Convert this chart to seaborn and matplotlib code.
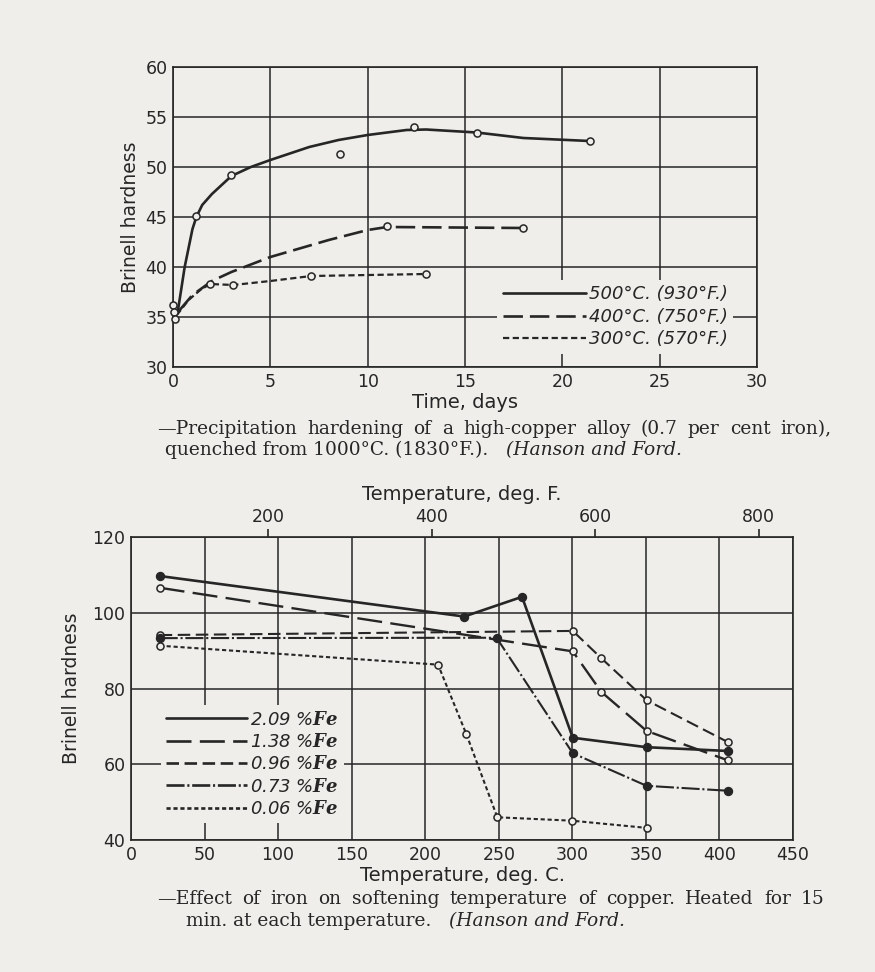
import matplotlib
matplotlib.use('Agg')
import matplotlib.pyplot as plt
from matplotlib.lines import Line2D
import seaborn as sns

# ---- top chart: precipitation hardening (Time, days vs Brinell hardness) ----
t500_curve_x = [0.25, 0.6, 1.0, 1.2, 1.5, 2.0, 3.0, 4.0, 5.0, 7.0, 8.5, 10.0, 12.0, 13.0, 15.6, 18.0, 21.4]
t500_curve_y = [35.6, 40.0, 43.8, 45.0, 46.2, 47.3, 49.1, 50.0, 50.7, 52.0, 52.7, 53.2, 53.7, 53.75, 53.45, 52.9, 52.6]
t500_pts_x = [1.2, 3.0, 8.6, 12.4, 15.6, 21.4]
t500_pts_y = [45.1, 49.2, 51.3, 54.0, 53.4, 52.55]

t400_curve_x = [0.3, 1.0, 2.0, 3.0, 5.0, 8.0, 10.0, 11.0, 18.0]
t400_curve_y = [35.6, 37.2, 38.6, 39.5, 41.0, 42.7, 43.7, 44.0, 43.9]
t400_pts_x = [11.0, 18.0]
t400_pts_y = [44.05, 43.9]

t300_curve_x = [0.2, 0.8, 1.4, 1.9, 3.1, 5.0, 7.1, 13.0]
t300_curve_y = [35.2, 36.7, 37.7, 38.3, 38.2, 38.6, 39.1, 39.3]
t300_pts_x = [1.9, 3.1, 7.1, 13.0]
t300_pts_y = [38.3, 38.15, 39.05, 39.3]

start_pts_x = [0.0, 0.05, 0.1]
start_pts_y = [36.2, 35.5, 34.8]

top_labels = ['500°C. (930°F.)', '400°C. (750°F.)', '300°C. (570°F.)']

# ---- bottom chart: softening temperature (deg C vs Brinell hardness) ----
fe209_x = [19.5, 226.5, 265.8, 300.3, 350.5, 406]
fe209_y = [109.7, 99.0, 104.2, 67.0, 64.5, 63.5]
fe138_x = [19.5, 300.3, 319.7, 350.5, 406]
fe138_y = [106.6, 89.8, 79.1, 68.8, 61.0]
fe096_x = [19.5, 300.3, 319.7, 350.5, 406]
fe096_y = [94.1, 95.2, 88.0, 76.9, 65.8]
fe073_x = [19.5, 248.5, 300.3, 350.5, 406]
fe073_y = [93.3, 93.4, 62.9, 54.3, 53.0]
fe006_x = [19.5, 208.7, 228.0, 249.0, 299.7, 350.5]
fe006_y = [91.3, 86.3, 67.9, 46.0, 45.1, 43.2]

bottom_labels = ['2.09', '1.38', '0.96', '0.73', '0.06']

BG = '#efeeeb'
INK = '#262626'

sns.set_style('white')
plt.rcParams['font.family'] = ['DejaVu Sans']
plt.rcParams['mathtext.fontset'] = 'dejavuserif'
plt.rcParams['lines.scale_dashes'] = False

fig = plt.figure(figsize=(8.75, 9.72), dpi=100, facecolor=BG)

# ================= top chart =================
ax1 = fig.add_axes([173 / 875, 1 - 367 / 972, 584 / 875, 300 / 972], facecolor=BG)

dash400 = (0, (14, 5))
dash300 = (0, (4.5, 2.5))

sns.lineplot(x=t500_curve_x, y=t500_curve_y, ax=ax1, color=INK, lw=1.9,
             sort=False, estimator=None, zorder=3)
sns.lineplot(x=t400_curve_x, y=t400_curve_y, ax=ax1, color=INK, lw=1.9,
             linestyle=dash400, sort=False, estimator=None, zorder=3)
sns.lineplot(x=t300_curve_x, y=t300_curve_y, ax=ax1, color=INK, lw=1.6,
             linestyle=dash300, sort=False, estimator=None, zorder=3)

for px, py in [(t500_pts_x, t500_pts_y), (t400_pts_x, t400_pts_y),
               (t300_pts_x, t300_pts_y), (start_pts_x, start_pts_y)]:
    sns.scatterplot(x=px, y=py, ax=ax1, marker='o', s=26, facecolor=BG,
                    edgecolor=INK, linewidth=1.1, zorder=4, clip_on=False)

ax1.set_xlim(0, 30)
ax1.set_ylim(30, 60)
ax1.set_xticks(range(0, 31, 5))
ax1.set_yticks(range(30, 61, 5))
ax1.grid(True, color=INK, lw=1.1)
ax1.set_axisbelow(True)
for s in ax1.spines.values():
    s.set_color(INK)
    s.set_linewidth(1.2)
ax1.tick_params(length=0, labelsize=12.5, colors=INK, pad=4)
ax1.set_xlabel('Time, days', fontsize=14, color=INK, labelpad=2)
ax1.set_ylabel('Brinell hardness', fontsize=13.5, color=INK, labelpad=4)

h_top = [Line2D([], [], color=INK, lw=1.9),
         Line2D([], [], color=INK, lw=1.9, linestyle=dash400),
         Line2D([], [], color=INK, lw=1.6, linestyle=dash300)]
leg1 = ax1.legend(h_top, top_labels, loc='upper left', bbox_to_anchor=(0.555, 0.29),
                  frameon=True, facecolor=BG, edgecolor='none', framealpha=1,
                  handlelength=4.6, handletextpad=0.2, labelspacing=0.25,
                  borderpad=0.3, borderaxespad=0,
                  prop={'style': 'italic', 'size': 13})
leg1.get_frame().set_boxstyle('square', pad=0)
for t in leg1.get_texts():
    t.set_color(INK)

# ================= bottom chart =================
ax2 = fig.add_axes([131 / 875, 1 - 840 / 972, 662 / 875, 303 / 972], facecolor=BG)

dash138 = (0, (18, 6))
dash096 = (0, (9, 4))
dash073 = (0, (13, 2, 1.5, 2))
dash006 = (0, (3, 2))

series = [
    (fe209_x, fe209_y, '-', 1.9, True),
    (fe138_x, fe138_y, dash138, 1.7, False),
    (fe096_x, fe096_y, dash096, 1.5, False),
    (fe073_x, fe073_y, dash073, 1.5, True),
    (fe006_x, fe006_y, dash006, 1.5, False),
]
for sx, sy, ls, lw, filled in series:
    sns.lineplot(x=sx, y=sy, ax=ax2, color=INK, lw=lw, linestyle=ls,
                 sort=False, estimator=None, zorder=3)
for sx, sy, ls, lw, filled in series:
    sns.scatterplot(x=sx, y=sy, ax=ax2, marker='o', s=32 if filled else 26,
                    facecolor=INK if filled else BG, edgecolor=INK,
                    linewidth=1.1, zorder=4)

ax2.set_xlim(0, 450)
ax2.set_ylim(40, 120)
ax2.set_xticks(range(0, 451, 50))
ax2.set_yticks(range(40, 121, 20))
ax2.grid(True, color=INK, lw=1.1)
ax2.set_axisbelow(True)
for s in ax2.spines.values():
    s.set_color(INK)
    s.set_linewidth(1.2)
ax2.tick_params(length=0, labelsize=12.5, colors=INK, pad=4)
ax2.set_xlabel('Temperature, deg. C.', fontsize=14, color=INK, labelpad=2)
ax2.set_ylabel('Brinell hardness', fontsize=13.5, color=INK, labelpad=8)

secax = ax2.secondary_xaxis('top', functions=(lambda c: c * 9 / 5 + 32,
                                              lambda f: (f - 32) * 5 / 9))
secax.set_xticks([200, 400, 600, 800])
secax.tick_params(length=6, width=1.2, direction='out', colors=INK,
                  labelsize=12.5, pad=2)
secax.spines['top'].set_visible(False)
secax.set_xlabel('Temperature, deg. F.', fontsize=14, color=INK, labelpad=6)

h_bot = [Line2D([], [], color=INK, lw=1.9, linestyle=s[2]) for s in series]
lab_bot = [f'{v} %$\\mathbfit{{Fe}}$' for v in bottom_labels]
leg2 = ax2.legend(h_bot, lab_bot, loc='upper left', bbox_to_anchor=(0.045, 0.445),
                  frameon=True, facecolor=BG, edgecolor='none', framealpha=1,
                  handlelength=4.5, handletextpad=0.15, labelspacing=0.24,
                  borderpad=0.3, borderaxespad=0,
                  prop={'style': 'italic', 'size': 13})
leg2.get_frame().set_boxstyle('square', pad=0)
for t in leg2.get_texts():
    t.set_color(INK)

# ================= captions =================
cap_kw = dict(family='DejaVu Serif', fontsize=13.4, color=INK, va='baseline')
renderer = fig.canvas.get_renderer()
W = fig.bbox.width


def justified(x0, x1, y, line):
    # spread the words of a full caption line between x0 and x1 (pixels)
    words = line.split()
    texts = [fig.text(0, 1 - y / 972, w, **cap_kw) for w in words]
    widths = [t.get_window_extent(renderer).width for t in texts]
    gap = (x1 - x0 - sum(widths)) / (len(words) - 1)
    x = x0
    for t, w in zip(texts, widths):
        t.set_x(x / W)
        x += w + gap


def caption(x, y, plain, italic=None):
    t = fig.text(x / W, 1 - y / 972, plain, **cap_kw)
    if italic:
        bb = t.get_window_extent(renderer)
        fig.text(bb.x1 / W, 1 - y / 972, italic, style='italic', **cap_kw)


justified(157, 832, 434, '—Precipitation hardening of a high-copper alloy (0.7 per cent iron),')
caption(165, 455, 'quenched from 1000°C. (1830°F.).   ', '(Hanson and Ford.')
justified(157, 825, 904, '—Effect of iron on softening temperature of copper. Heated for 15')
caption(186, 926, 'min. at each temperature.   ', '(Hanson and Ford.')

fig.savefig('out.png', dpi=100, facecolor=BG)
